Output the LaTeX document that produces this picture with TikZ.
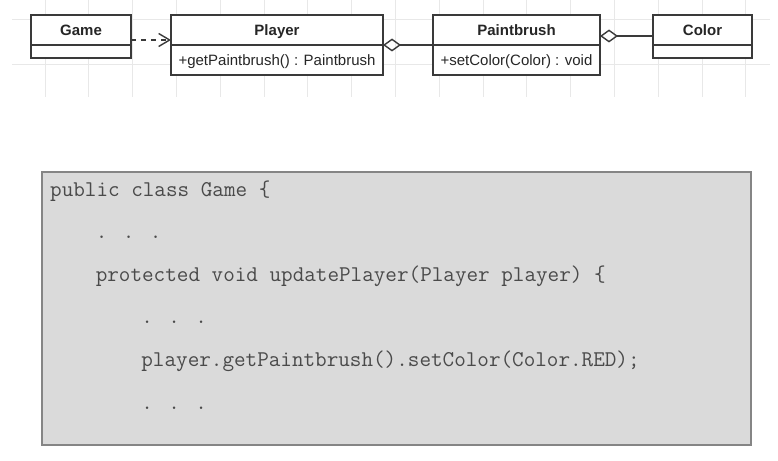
\documentclass[tikz,border=0pt]{standalone}
\usepackage{fontspec}
\setmainfont{Liberation Sans}
\usetikzlibrary{positioning,arrows.meta}
\definecolor{gridgray}{HTML}{E8E8E8}
\definecolor{boxline}{HTML}{3A3A3A}
\definecolor{codefill}{HTML}{DADADA}
\definecolor{codeborder}{HTML}{858585}
\definecolor{codetext}{HTML}{4A4A4A}
\tikzset{
  clsname/.style={draw=boxline, line width=1.4pt, fill=white, text=black!85,
    minimum height=30pt, inner sep=0pt, outer sep=0pt,
    text height=13pt, text depth=1pt,
    font=\fontsize{15}{18}\selectfont\bfseries},
  clsbody/.style={draw=boxline, line width=1.4pt, fill=white, text=black!85,
    inner sep=0pt, outer sep=0pt, text height=12pt, text depth=1.5pt,
    font=\fontsize{15}{18}\selectfont},
  emptybody/.style={clsbody, minimum height=13pt, text height=0pt, text depth=0pt},
  dep/.style={draw=boxline, line width=1.4pt, dash pattern=on 5pt off 5pt,
    -{Straight Barb[length=11pt,width=13pt]}},
  agg/.style={draw=boxline, line width=1.4pt,
    -{Diamond[open,length=18pt,width=13pt]}},
  gridline/.style={draw=gridgray, line width=1pt},
  codebox/.style={draw=codeborder, fill=codefill, line width=2pt},
  codetxt/.style={anchor=base west, inner sep=0pt, text=codetext,
    font=\fontsize{22.5}{27}\selectfont\ttfamily}
}
\begin{document}
\begin{tikzpicture}[x=1pt,y=-1pt]
\useasboundingbox (0,0) rectangle (778,460);
% background grid
\foreach \gx in {1,...,17}
  \draw[gridline] (1.2+43.8*\gx,0) -- (1.2+43.8*\gx,97);
\foreach \gy in {20,64}
  \draw[gridline] (12,\gy) -- (770,\gy);

% classes
\node[clsname, minimum width=100pt] (game) at (81,30) {Game};
\node[emptybody, minimum width=100pt, below=0pt of game] (gameb) {};
\node[clsname, minimum width=212pt] (player) at (277,30) {Player};
\node[clsbody, minimum width=212pt, minimum height=30pt, below=0pt of player] (playerb) {+getPaintbrush() : Paintbrush};
\node[clsname, minimum width=167pt] (paint) at (516.5,30) {Paintbrush};
\node[clsbody, minimum width=167pt, minimum height=30pt, below=0pt of paint] (paintb) {+setColor(Color) : void};
\node[clsname, minimum width=99pt] (color) at (702.5,30) {Color};
\node[emptybody, minimum width=99pt, below=0pt of color] (colorb) {};

% relations
\draw[dep] ([yshift=-10pt]game.east) -- ([yshift=-10pt]game.east -| player.west);
\draw[agg] (paintb.north west) -- (playerb.north east);
\draw[agg] ([yshift=-6pt]color.west) -- ([yshift=-6pt]color.west -| paint.east);

% code listing
\draw[codebox] (42,172) rectangle (751,445);
\node[codetxt] (line1) at (50,196) {public class Game \{};
\node[codetxt] (line2) at (95.6,238.6) {. . .};
\node[codetxt] (line3) at (95.6,281.2) {protected void updatePlayer(Player player) \{};
\node[codetxt] (line4) at (141.2,323.8) {. . .};
\node[codetxt] (line5) at (141.2,366.4) {player.getPaintbrush().setColor(Color.RED);};
\node[codetxt] (line6) at (141.2,409) {. . .};
\end{tikzpicture}
\end{document}
